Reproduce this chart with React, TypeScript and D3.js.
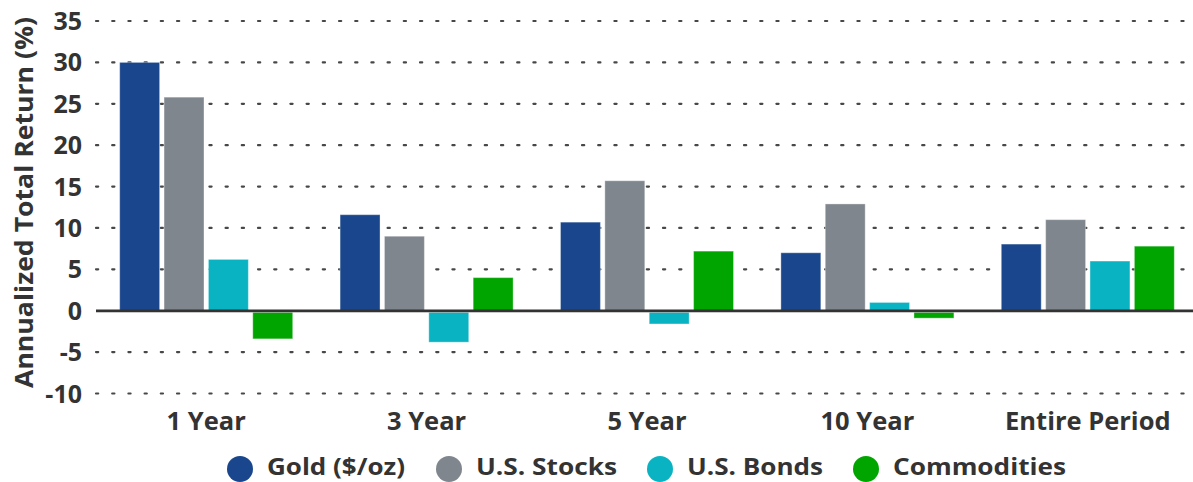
import React, { useRef, useEffect } from "react";
import * as d3 from "d3";

const periods = ["1 Year", "3 Year", "5 Year", "10 Year", "Entire Period"];
const seriesNames = ["Gold ($/oz)", "U.S. Stocks", "U.S. Bonds", "Commodities"];
const seriesColors = ["#19468c", "#7f868d", "#0ab3c2", "#00a500"];
const gold = [30.0, 11.6, 10.7, 7.0, 8.05];
const stocks = [25.8, 9.0, 15.7, 12.9, 11.0];
const bonds = [6.2, -3.8, -1.6, 1.0, 6.0];
const commodities = [-3.4, 4.0, 7.2, -0.9, 7.8];
const yTicks = [35, 30, 25, 20, 15, 10, 5, 0, -5, -10];

export default function App() {
  const ref = useRef<SVGSVGElement | null>(null);

  useEffect(() => {
    if (!ref.current) return;
    const svg = d3.select(ref.current);
    svg.selectAll("*").remove();

    const W = 1193;
    const left = 96;
    const right = 1198;
    const font = "'Open Sans', sans-serif";
    const ink = "#333333";

    const values = [gold, stocks, bonds, commodities];

    const y = d3.scaleLinear().domain([-10, 35]).range([393.5, 21]);
    const x0 = d3
      .scaleBand<string>()
      .domain(periods)
      .range([left, right])
      .paddingInner(0.215)
      .paddingOuter(0.1075);
    const x1 = d3
      .scaleBand<string>()
      .domain(seriesNames)
      .range([0, x0.bandwidth()])
      .paddingInner(0.1)
      .paddingOuter(0);

    // dotted grid
    svg
      .append("g")
      .selectAll("line")
      .data(yTicks.filter((t) => t !== 0))
      .enter()
      .append("line")
      .attr("x1", left)
      .attr("x2", W)
      .attr("y1", (d) => y(d))
      .attr("y2", (d) => y(d))
      .attr("stroke", ink)
      .attr("stroke-width", 2.2)
      .attr("stroke-dasharray", "2.2 14")
      .attr("stroke-linecap", "round")
      .attr("stroke-opacity", 0.9);

    // y tick labels
    svg
      .append("g")
      .selectAll("text")
      .data(yTicks)
      .enter()
      .append("text")
      .attr("x", 82)
      .attr("y", (d) => y(d))
      .attr("dy", "0.36em")
      .attr("text-anchor", "end")
      .attr("font-family", font)
      .attr("font-weight", 700)
      .attr("font-size", 25)
      .attr("fill", ink)
      .text((d) => String(d));

    // y title
    svg
      .append("text")
      .attr("transform", `translate(33, ${(17 + 388) / 2}) rotate(-90)`)
      .attr("text-anchor", "middle")
      .attr("font-family", font)
      .attr("font-weight", 700)
      .attr("font-size", 25)
      .attr("fill", ink)
      .attr("textLength", 371)
      .attr("lengthAdjust", "spacingAndGlyphs")
      .text("Annualized Total Return (%)");

    // bars
    const groups = svg
      .append("g")
      .selectAll("g")
      .data(periods)
      .enter()
      .append("g")
      .attr("transform", (d) => `translate(${x0(d)},0)`);

    groups
      .selectAll("rect")
      .data((_p, i) => seriesNames.map((s, j) => ({ s, j, v: values[j][i] })))
      .enter()
      .append("rect")
      .attr("x", (d) => x1(d.s)!)
      .attr("width", x1.bandwidth())
      .attr("y", (d) => y(Math.max(0, d.v)))
      .attr("height", (d) => Math.abs(y(d.v) - y(0)))
      .attr("fill", (d) => seriesColors[d.j])
      .attr("stroke", "rgba(255,255,255,0.35)")
      .attr("stroke-width", 1);

    // zero line
    svg
      .append("line")
      .attr("x1", left)
      .attr("x2", W)
      .attr("y1", y(0) + 1.5)
      .attr("y2", y(0) + 1.5)
      .attr("stroke", "#b5b5b5")
      .attr("stroke-width", 1);
    svg
      .append("line")
      .attr("x1", left)
      .attr("x2", W)
      .attr("y1", y(0))
      .attr("y2", y(0))
      .attr("stroke", ink)
      .attr("stroke-width", 2.5);

    // x labels
    svg
      .append("g")
      .selectAll("text")
      .data(periods)
      .enter()
      .append("text")
      .attr("x", (d) => x0(d)! + x0.bandwidth() / 2)
      .attr("y", 430)
      .attr("text-anchor", "middle")
      .attr("font-family", font)
      .attr("font-weight", 700)
      .attr("font-size", 25.5)
      .attr("fill", ink)
      .text((d) => d);

    // legend
    const legendMarkerX = [240, 449, 660, 866];
    const legendTextW = [138, 141, 136, 173];
    const legend = svg
      .append("g")
      .selectAll("g")
      .data(seriesNames)
      .enter()
      .append("g")
      .attr("transform", (_d, i) => `translate(${legendMarkerX[i]}, 469)`);
    legend
      .append("circle")
      .attr("r", 13)
      .attr("fill", (_d, i) => seriesColors[i]);
    legend
      .append("text")
      .attr("x", 27)
      .attr("y", 6)
      .attr("font-family", font)
      .attr("font-weight", 700)
      .attr("font-size", 24)
      .attr("fill", ink)
      .attr("textLength", (_d, i) => legendTextW[i])
      .attr("lengthAdjust", "spacingAndGlyphs")
      .text((d) => d);
  }, []);

  return (
    <svg
      ref={ref}
      width={1193}
      height={482}
      style={{ position: "absolute", left: 0, top: 0, background: "#fff" }}
    />
  );
}
